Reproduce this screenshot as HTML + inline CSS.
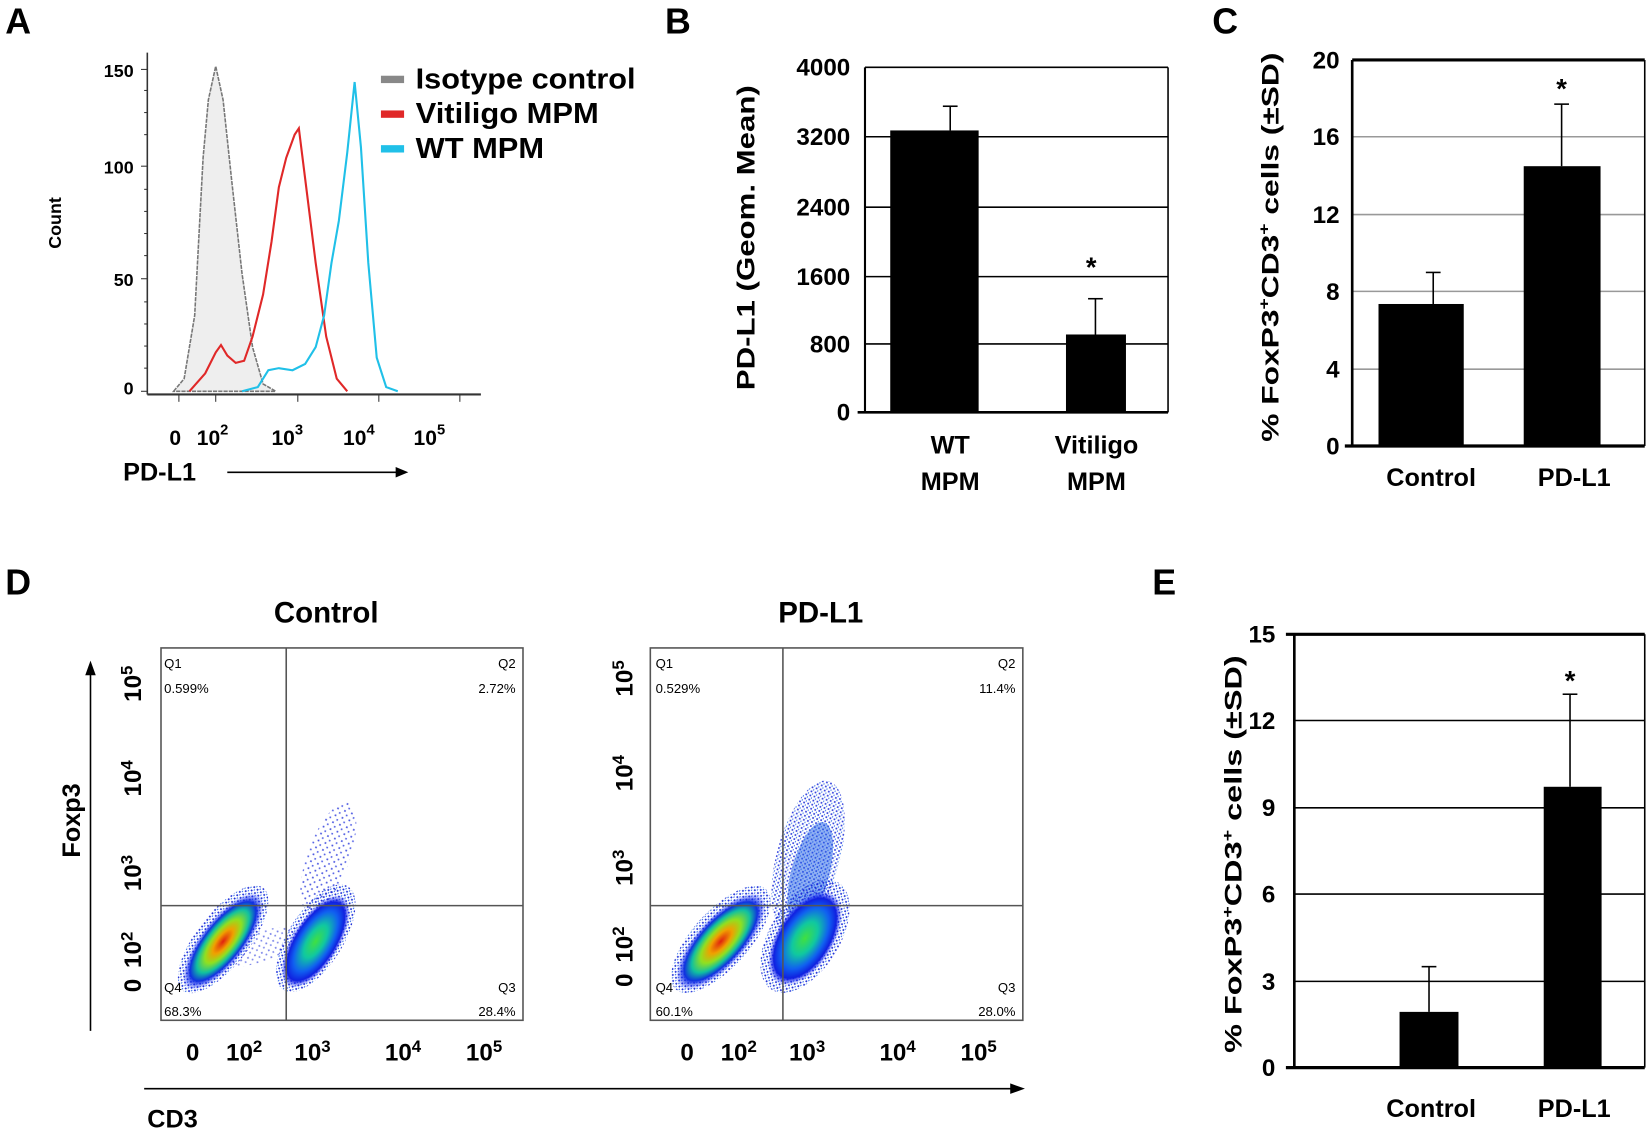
<!DOCTYPE html>
<html><head><meta charset="utf-8"><style>
html,body{margin:0;padding:0;background:#fff}
svg{display:block}
text{font-family:"Liberation Sans",Arial,sans-serif;font-weight:bold;fill:#000}
.n{font-weight:normal}
</style></head><body>
<svg width="1650" height="1136" viewBox="0 0 1568 1080" preserveAspectRatio="none" xmlns="http://www.w3.org/2000/svg">
<defs>
<radialGradient id="gR"><stop offset="0" stop-color="#e02010"/><stop offset="0.25" stop-color="#f0a000"/><stop offset="0.45" stop-color="#90e020"/><stop offset="0.65" stop-color="#10c0a0"/><stop offset="0.82" stop-color="#1030e0"/><stop offset="1" stop-color="#2030ff" stop-opacity="0"/></radialGradient>
<radialGradient id="gG"><stop offset="0" stop-color="#40e040"/><stop offset="0.35" stop-color="#10c8a0"/><stop offset="0.65" stop-color="#1060f0"/><stop offset="0.85" stop-color="#1020e0"/><stop offset="1" stop-color="#2030ff" stop-opacity="0"/></radialGradient>
<pattern id="dots" width="7" height="7" patternUnits="userSpaceOnUse"><rect x="1" y="2" width="1.6" height="1.6" fill="#1828d8"/><rect x="4.5" y="5" width="1.6" height="1.6" fill="#3040e0"/></pattern>
<pattern id="dots2" width="4" height="4" patternUnits="userSpaceOnUse"><rect x="0.5" y="1" width="1.6" height="1.6" fill="#1828d8"/><rect x="2.5" y="3" width="1.4" height="1.4" fill="#2a6ae8"/></pattern>
</defs>

<text x="5" y="32" font-size="34">A</text>
<text x="632" y="32" font-size="34">B</text>
<text x="1152" y="32" font-size="34">C</text>
<text x="5" y="565" font-size="34">D</text>
<text x="1095" y="565" font-size="34">E</text>

<!-- Panel A -->
<g>
<path d="M165,372 L175,360 185,300 193,150 198,95 205,63 212,95 220,170 230,260 240,330 250,365 262,372 Z" fill="#eee" stroke="#777" stroke-width="1.5" stroke-dasharray="4,1"/>
<path d="M180,372 L195,355 205,335 210,328 216,338 224,345 232,343 240,320 250,280 258,230 265,178 272,150 280,128 284,122 290,170 300,250 310,320 320,360 330,372" fill="none" stroke="#e02828" stroke-width="2"/>
<path d="M230,372 L245,368 255,352 265,350 278,352 290,346 300,330 308,300 315,250 322,210 330,145 337,78 343,140 350,250 358,340 367,368 378,372" fill="none" stroke="#20c0e8" stroke-width="2"/>
<line x1="140" y1="50" x2="140" y2="375" stroke="#333" stroke-width="1.5"/>
<line x1="140" y1="375" x2="457" y2="375" stroke="#333" stroke-width="2"/>
<g stroke="#333" stroke-width="1">
<line x1="134" y1="66" x2="140" y2="66"/><line x1="134" y1="158" x2="140" y2="158"/><line x1="134" y1="265" x2="140" y2="265"/><line x1="134" y1="372" x2="140" y2="372"/>
<line x1="137" y1="86" x2="140" y2="86"/><line x1="137" y1="107" x2="140" y2="107"/><line x1="137" y1="128" x2="140" y2="128"/><line x1="137" y1="180" x2="140" y2="180"/><line x1="137" y1="201" x2="140" y2="201"/><line x1="137" y1="222" x2="140" y2="222"/><line x1="137" y1="243" x2="140" y2="243"/><line x1="137" y1="287" x2="140" y2="287"/><line x1="137" y1="308" x2="140" y2="308"/><line x1="137" y1="329" x2="140" y2="329"/><line x1="137" y1="350" x2="140" y2="350"/>
<line x1="205" y1="375" x2="205" y2="382"/><line x1="283" y1="375" x2="283" y2="382"/><line x1="360" y1="375" x2="360" y2="382"/><line x1="437" y1="375" x2="437" y2="382"/><line x1="170" y1="375" x2="170" y2="382"/>
</g>
<text x="127" y="73" font-size="17" text-anchor="end">150</text>
<text x="127" y="165" font-size="17" text-anchor="end">100</text>
<text x="127" y="272" font-size="17" text-anchor="end">50</text>
<text x="127" y="375" font-size="17" text-anchor="end">0</text>
<text transform="translate(58,212) rotate(-90)" font-size="17" text-anchor="middle">Count</text>
<text x="161" y="423" font-size="20">0</text>
<text x="187" y="423" font-size="20">10<tspan dy="-10" font-size="14">2</tspan></text>
<text x="258" y="423" font-size="20">10<tspan dy="-10" font-size="14">3</tspan></text>
<text x="326" y="423" font-size="20">10<tspan dy="-10" font-size="14">4</tspan></text>
<text x="393" y="423" font-size="20">10<tspan dy="-10" font-size="14">5</tspan></text>
<text x="117" y="457" font-size="24">PD-L1</text>
<line x1="216" y1="449" x2="380" y2="449" stroke="#000" stroke-width="1.5"/><path d="M388,449 L376,444 L376,454 Z"/>
<rect x="362" y="72" width="22" height="7" fill="#888"/><text x="395" y="84" font-size="27" textLength="209" lengthAdjust="spacingAndGlyphs">Isotype control</text>
<rect x="362" y="105" width="22" height="7" fill="#e02828"/><text x="395" y="117" font-size="27" textLength="174" lengthAdjust="spacingAndGlyphs">Vitiligo MPM</text>
<rect x="362" y="138" width="22" height="7" fill="#20c0e8"/><text x="395" y="150" font-size="27" textLength="122" lengthAdjust="spacingAndGlyphs">WT MPM</text>
</g>

<!-- Panel B -->
<g>
<g stroke="#000" stroke-width="1.5">
<line x1="822" y1="64" x2="1110" y2="64"/><line x1="822" y1="130" x2="1110" y2="130"/><line x1="822" y1="197" x2="1110" y2="197"/><line x1="822" y1="263" x2="1110" y2="263"/><line x1="822" y1="327" x2="1110" y2="327"/>
<line x1="1110" y1="64" x2="1110" y2="392"/>
</g>
<line x1="822" y1="64" x2="822" y2="392" stroke="#000" stroke-width="2"/>
<line x1="815" y1="392" x2="1110" y2="392" stroke="#000" stroke-width="2.5"/>
<rect x="846" y="124" width="84" height="268"/>
<rect x="1013" y="318" width="57" height="74"/>
<g stroke="#000" stroke-width="1.5"><line x1="903" y1="124" x2="903" y2="101"/><line x1="896" y1="101" x2="910" y2="101"/><line x1="1041" y1="318" x2="1041" y2="284"/><line x1="1034" y1="284" x2="1048" y2="284"/></g>
<text x="1037" y="263" font-size="26" text-anchor="middle">*</text>
<g font-size="23" text-anchor="end"><text x="808" y="72">4000</text><text x="808" y="138">3200</text><text x="808" y="205">2400</text><text x="808" y="271">1600</text><text x="808" y="335">800</text><text x="808" y="400">0</text></g>
<text transform="translate(717,226) rotate(-90)" font-size="24" text-anchor="middle" textLength="290" lengthAdjust="spacingAndGlyphs">PD-L1 (Geom. Mean)</text>
<g font-size="24" text-anchor="middle"><text x="903" y="431">WT</text><text x="903" y="466">MPM</text><text x="1042" y="431">Vitiligo</text><text x="1042" y="466">MPM</text></g>
</g>

<!-- Panel C -->
<g>
<g stroke="#999" stroke-width="1.5"><line x1="1285" y1="130" x2="1563" y2="130"/><line x1="1285" y1="204" x2="1563" y2="204"/><line x1="1285" y1="277" x2="1563" y2="277"/><line x1="1285" y1="351" x2="1563" y2="351"/></g>
<line x1="1285" y1="57" x2="1563" y2="57" stroke="#000" stroke-width="3"/>
<line x1="1563" y1="57" x2="1563" y2="424" stroke="#000" stroke-width="1.5"/>
<line x1="1285" y1="57" x2="1285" y2="424" stroke="#000" stroke-width="2.5"/>
<line x1="1278" y1="424" x2="1563" y2="424" stroke="#000" stroke-width="3"/>
<rect x="1310" y="289" width="81" height="135"/>
<rect x="1448" y="158" width="73" height="266"/>
<g stroke="#000" stroke-width="1.5"><line x1="1362" y1="289" x2="1362" y2="259"/><line x1="1355" y1="259" x2="1369" y2="259"/><line x1="1484" y1="158" x2="1484" y2="99"/><line x1="1477" y1="99" x2="1491" y2="99"/></g>
<text x="1484" y="93" font-size="26" text-anchor="middle">*</text>
<g font-size="23" text-anchor="end"><text x="1273" y="65">20</text><text x="1273" y="138">16</text><text x="1273" y="212">12</text><text x="1273" y="285">8</text><text x="1273" y="359">4</text><text x="1273" y="432">0</text></g>
<text transform="translate(1215,235) rotate(-90)" font-size="23" text-anchor="middle" textLength="370" lengthAdjust="spacingAndGlyphs">% FoxP3<tspan dy="-9" font-size="14">+</tspan><tspan dy="9">CD3</tspan><tspan dy="-9" font-size="14">+</tspan><tspan dy="9"> cells (±SD)</tspan></text>
<g font-size="24" text-anchor="middle"><text x="1360" y="462">Control</text><text x="1496" y="462">PD-L1</text></g>
</g>

<!-- Panel E -->
<g>
<g stroke="#000" stroke-width="1.5"><line x1="1230" y1="685" x2="1563" y2="685"/><line x1="1230" y1="768" x2="1563" y2="768"/><line x1="1230" y1="850" x2="1563" y2="850"/><line x1="1230" y1="933" x2="1563" y2="933"/><line x1="1563" y1="603" x2="1563" y2="1015"/></g>
<line x1="1222" y1="603" x2="1563" y2="603" stroke="#000" stroke-width="3"/>
<line x1="1230" y1="603" x2="1230" y2="1015" stroke="#000" stroke-width="2.5"/>
<line x1="1222" y1="1015" x2="1563" y2="1015" stroke="#000" stroke-width="3"/>
<rect x="1330" y="962" width="56" height="53"/>
<rect x="1467" y="748" width="55" height="267"/>
<g stroke="#000" stroke-width="1.5"><line x1="1358" y1="962" x2="1358" y2="919"/><line x1="1351" y1="919" x2="1365" y2="919"/><line x1="1492" y1="748" x2="1492" y2="660"/><line x1="1485" y1="660" x2="1499" y2="660"/></g>
<text x="1492" y="656" font-size="26" text-anchor="middle">*</text>
<g font-size="23" text-anchor="end"><text x="1212" y="611">15</text><text x="1212" y="693">12</text><text x="1212" y="776">9</text><text x="1212" y="858">6</text><text x="1212" y="941">3</text><text x="1212" y="1023">0</text></g>
<text transform="translate(1180,812) rotate(-90)" font-size="23" text-anchor="middle" textLength="378" lengthAdjust="spacingAndGlyphs">% FoxP3<tspan dy="-9" font-size="14">+</tspan><tspan dy="9">CD3</tspan><tspan dy="-9" font-size="14">+</tspan><tspan dy="9"> cells (±SD)</tspan></text>
<g font-size="24" text-anchor="middle"><text x="1360" y="1062">Control</text><text x="1496" y="1062">PD-L1</text></g>
</g>

<!-- Panel D -->
<text x="310" y="592" font-size="28" text-anchor="middle">Control</text>
<text x="780" y="592" font-size="28" text-anchor="middle">PD-L1</text>
<text transform="translate(76,780) rotate(-90)" font-size="24" text-anchor="middle">Foxp3</text>
<line x1="86" y1="980" x2="86" y2="640" stroke="#000" stroke-width="1.5"/><path d="M86,628 L81,642 L91,642 Z"/>
<line x1="137" y1="1035" x2="962" y2="1035" stroke="#000" stroke-width="1.5"/><path d="M974,1035 L960,1030 L960,1040 Z"/>
<text x="140" y="1072" font-size="24">CD3</text>

<!-- plot 1 -->
<g>
<rect x="153" y="616" width="344" height="354" fill="#fff" stroke="#555" stroke-width="1.5"/>
<ellipse cx="312" cy="815" rx="55" ry="20" transform="rotate(-70 312 815)" fill="url(#dots)" opacity="0.8"/>
<ellipse cx="248" cy="900" rx="40" ry="14" transform="rotate(-20 248 900)" fill="url(#dots)" opacity="0.6"/>
<ellipse cx="300" cy="892" rx="58" ry="26" transform="rotate(-58 300 892)" fill="url(#dots2)"/>
<ellipse cx="300" cy="895" rx="50" ry="22" transform="rotate(-58 300 895)" fill="url(#gG)"/>
<ellipse cx="212" cy="893" rx="62" ry="25" transform="rotate(-52 212 893)" fill="url(#dots2)"/>
<ellipse cx="212" cy="895" rx="56" ry="21" transform="rotate(-52 212 895)" fill="url(#gR)"/>
<line x1="272" y1="616" x2="272" y2="970" stroke="#555" stroke-width="1.5"/>
<line x1="153" y1="861" x2="497" y2="861" stroke="#555" stroke-width="1.5"/>
<g font-size="12.5" fill="#333"><text class="n" x="156" y="635">Q1</text><text class="n" x="156" y="659">0.599%</text><text class="n" x="490" y="635" text-anchor="end">Q2</text><text class="n" x="490" y="659" text-anchor="end">2.72%</text><text class="n" x="156" y="943">Q4</text><text class="n" x="156" y="966">68.3%</text><text class="n" x="490" y="943" text-anchor="end">Q3</text><text class="n" x="490" y="966" text-anchor="end">28.4%</text></g>
<g font-size="23">
<text transform="translate(134,650) rotate(-90)" text-anchor="middle">10<tspan dy="-8" font-size="16">5</tspan></text>
<text transform="translate(134,740) rotate(-90)" text-anchor="middle">10<tspan dy="-8" font-size="16">4</tspan></text>
<text transform="translate(134,830) rotate(-90)" text-anchor="middle">10<tspan dy="-8" font-size="16">3</tspan></text>
<text transform="translate(134,903) rotate(-90)" text-anchor="middle">10<tspan dy="-8" font-size="16">2</tspan></text>
<text transform="translate(134,937) rotate(-90)" text-anchor="middle">0</text>
<text x="183" y="1008" text-anchor="middle">0</text>
<text x="232" y="1008" text-anchor="middle">10<tspan dy="-8" font-size="16">2</tspan></text>
<text x="297" y="1008" text-anchor="middle">10<tspan dy="-8" font-size="16">3</tspan></text>
<text x="383" y="1008" text-anchor="middle">10<tspan dy="-8" font-size="16">4</tspan></text>
<text x="460" y="1008" text-anchor="middle">10<tspan dy="-8" font-size="16">5</tspan></text>
</g>
</g>

<!-- plot 2 -->
<g>
<rect x="618" y="616" width="354" height="354" fill="#fff" stroke="#555" stroke-width="1.5"/>
<ellipse cx="768" cy="815" rx="75" ry="30" transform="rotate(-75 768 815)" fill="url(#dots2)" opacity="0.9"/>
<ellipse cx="770" cy="830" rx="50" ry="18" transform="rotate(-75 770 830)" fill="#2060e8" opacity="0.5"/>
<ellipse cx="765" cy="890" rx="60" ry="33" transform="rotate(-58 765 890)" fill="url(#dots2)"/>
<ellipse cx="765" cy="892" rx="50" ry="27" transform="rotate(-58 765 892)" fill="url(#gG)"/>
<ellipse cx="685" cy="893" rx="64" ry="27" transform="rotate(-48 685 893)" fill="url(#dots2)"/>
<ellipse cx="685" cy="895" rx="58" ry="23" transform="rotate(-48 685 895)" fill="url(#gR)"/>
<line x1="744" y1="616" x2="744" y2="970" stroke="#555" stroke-width="1.5"/>
<line x1="618" y1="861" x2="972" y2="861" stroke="#555" stroke-width="1.5"/>
<g font-size="12.5" fill="#333"><text class="n" x="623" y="635">Q1</text><text class="n" x="623" y="659">0.529%</text><text class="n" x="965" y="635" text-anchor="end">Q2</text><text class="n" x="965" y="659" text-anchor="end">11.4%</text><text class="n" x="623" y="943">Q4</text><text class="n" x="623" y="966">60.1%</text><text class="n" x="965" y="943" text-anchor="end">Q3</text><text class="n" x="965" y="966" text-anchor="end">28.0%</text></g>
<g font-size="23">
<text transform="translate(601,645) rotate(-90)" text-anchor="middle">10<tspan dy="-8" font-size="16">5</tspan></text>
<text transform="translate(601,735) rotate(-90)" text-anchor="middle">10<tspan dy="-8" font-size="16">4</tspan></text>
<text transform="translate(601,825) rotate(-90)" text-anchor="middle">10<tspan dy="-8" font-size="16">3</tspan></text>
<text transform="translate(601,898) rotate(-90)" text-anchor="middle">10<tspan dy="-8" font-size="16">2</tspan></text>
<text transform="translate(601,932) rotate(-90)" text-anchor="middle">0</text>
<text x="653" y="1008" text-anchor="middle">0</text>
<text x="702" y="1008" text-anchor="middle">10<tspan dy="-8" font-size="16">2</tspan></text>
<text x="767" y="1008" text-anchor="middle">10<tspan dy="-8" font-size="16">3</tspan></text>
<text x="853" y="1008" text-anchor="middle">10<tspan dy="-8" font-size="16">4</tspan></text>
<text x="930" y="1008" text-anchor="middle">10<tspan dy="-8" font-size="16">5</tspan></text>
</g>
</g>
</svg>
</body></html>
